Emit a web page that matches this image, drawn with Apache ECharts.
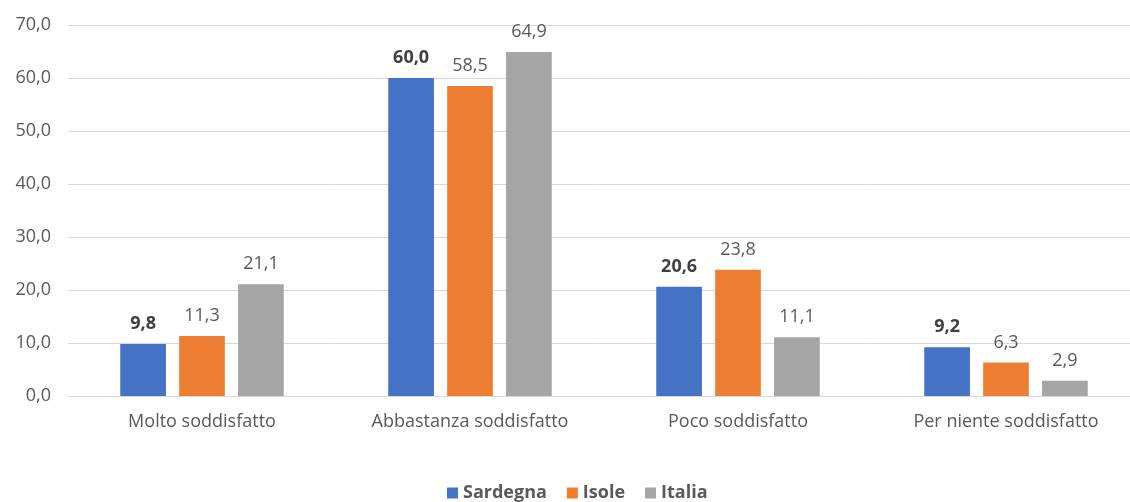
<!DOCTYPE html>
<html>
<head>
<meta charset="utf-8">
<script src="https://cdn.jsdelivr.net/npm/echarts@6/dist/echarts.min.js"></script>
<style>
  html, body { margin: 0; padding: 0; background: #fff; }
  #chart { width: 1130px; height: 502px; }
</style>
</head>
<body>
<div id="chart"></div>
<script>
const categories = ['Molto soddisfatto', 'Abbastanza soddisfatto', 'Poco soddisfatto', 'Per niente soddisfatto']
const sardegna = [9.8, 60.0, 20.6, 9.2]
const isole = [11.3, 58.5, 23.8, 6.3]
const italia = [21.1, 64.9, 11.1, 2.9]

const fontFamily = '"Open Sans", "Liberation Sans", sans-serif'
const fmt = v => v.toFixed(1).replace('.', ',')

const makeSeries = (name, data, color, bold) => ({
  name,
  type: 'bar',
  data,
  barGap: '29%',
  barCategoryGap: '39%',
  itemStyle: { color },
  label: {
    show: true,
    position: 'top',
    distance: 11,
    color: bold ? '#404040' : '#595959',
    fontWeight: bold ? 'bold' : 'normal',
    fontSize: 18,
    fontFamily,
    formatter: p => fmt(p.value)
  }
})

const chart = echarts.init(document.getElementById('chart'))
chart.setOption({
  animation: false,
  grid: { left: 68, width: 1072, top: 25, bottom: 106, outerBoundsMode: 'none', containLabel: false },
  legend: {
    top: 479,
    left: 442,
    itemWidth: 11,
    itemHeight: 11,
    itemGap: 20,
    icon: 'rect',
    textStyle: { color: '#595959', fontSize: 18, fontWeight: 'bold', fontFamily }
  },
  xAxis: {
    type: 'category',
    data: categories,
    axisLine: { lineStyle: { color: '#d9d9d9', width: 1 } },
    axisTick: { show: false },
    axisLabel: { color: '#595959', fontSize: 18, fontFamily, margin: 17 }
  },
  yAxis: {
    type: 'value',
    min: 0,
    max: 70,
    interval: 10,
    axisLabel: { color: '#595959', fontSize: 18, fontFamily, margin: 17, formatter: v => fmt(v) },
    splitLine: { lineStyle: { color: '#d9d9d9', width: 1 } }
  },
  series: [
    makeSeries('Sardegna', sardegna, '#4472C4', true),
    makeSeries('Isole', isole, '#ED7D31', false),
    makeSeries('Italia', italia, '#A5A5A5', false)
  ]
})
</script>
</body>
</html>
